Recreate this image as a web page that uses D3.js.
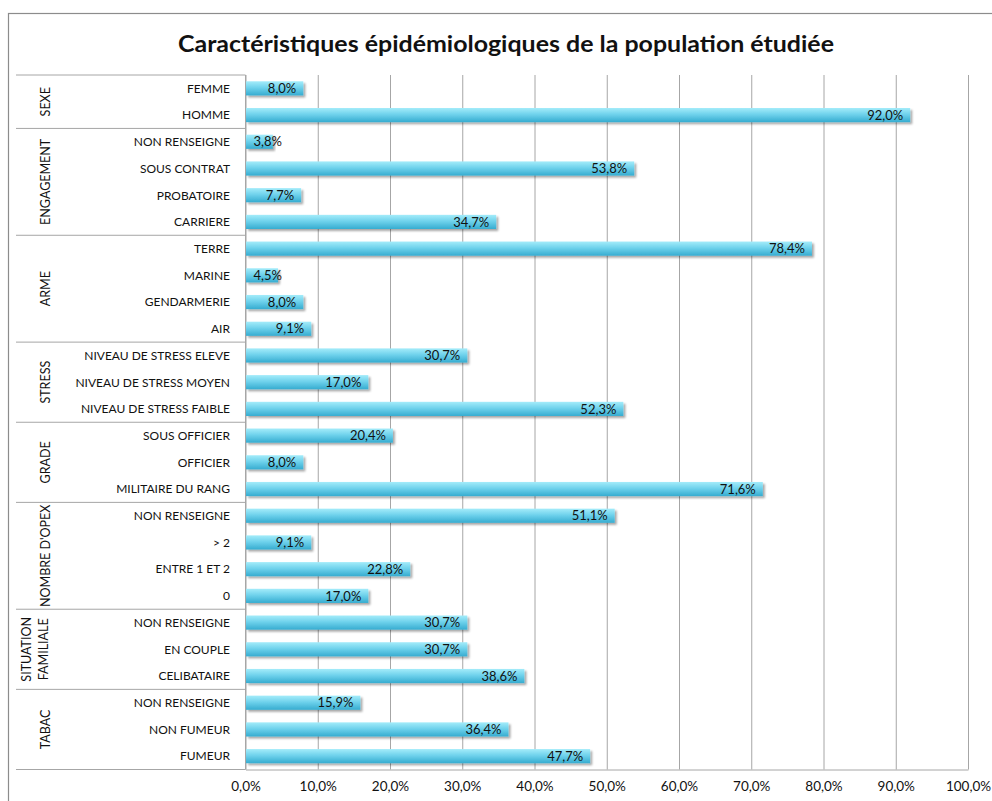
<!DOCTYPE html>
<html>
<head>
<meta charset="utf-8">
<script src="https://cdn.jsdelivr.net/npm/d3@7"></script>
<style>
  body { margin: 0; background: #fff; }
  svg { font-family: Lato, "Open Sans", sans-serif; }
</style>
</head>
<body>
<svg width="992" height="801"></svg>
<script>
// data
const groups = ["SEXE", "ENGAGEMENT", "ARME", "STRESS", "GRADE", "NOMBRE D'OPEX", "SITUATION FAMILIALE", "TABAC"];
const groupSizes = [2, 4, 4, 3, 3, 4, 3, 3];
const categories = [
    "FEMME", "HOMME",
    "NON RENSEIGNE", "SOUS CONTRAT", "PROBATOIRE", "CARRIERE",
    "TERRE", "MARINE", "GENDARMERIE", "AIR",
    "NIVEAU DE STRESS ELEVE", "NIVEAU DE STRESS MOYEN", "NIVEAU DE STRESS FAIBLE",
    "SOUS OFFICIER", "OFFICIER", "MILITAIRE DU RANG",
    "NON RENSEIGNE", "> 2", "ENTRE 1 ET 2", "0",
    "NON RENSEIGNE", "EN COUPLE", "CELIBATAIRE",
    "NON RENSEIGNE", "NON FUMEUR", "FUMEUR"
];
const values = [
    8.0, 92.0,
    3.8, 53.8, 7.7, 34.7,
    78.4, 4.5, 8.0, 9.1,
    30.7, 17.0, 52.3,
    20.4, 8.0, 71.6,
    51.1, 9.1, 22.8, 17.0,
    30.7, 30.7, 38.6,
    15.9, 36.4, 47.7
];
const xTicks = [0, 10, 20, 30, 40, 50, 60, 70, 80, 90, 100];

const fmt = (v) => v.toFixed(1).replace(".", ",") + "%";

const plotLeft = 245.5, plotRight = 968, plotTop = 75, plotBottom = 769.5;

const svg = d3.select("svg");

// chart frame
svg.append("rect")
    .attr("x", 8.5).attr("y", 13.5)
    .attr("width", 1000).attr("height", 1000)
    .attr("fill", "none").attr("stroke", "#8c8c8c").attr("stroke-width", 1.2);

svg.append("text")
    .attr("x", 506).attr("y", 52)
    .attr("text-anchor", "middle")
    .attr("font-size", 22).attr("font-weight", "bold")
    .attr("textLength", 656).attr("lengthAdjust", "spacingAndGlyphs")
    .attr("fill", "#111")
    .text("Caractéristiques épidémiologiques de la population étudiée");

const defs = svg.append("defs");
const grad = defs.append("linearGradient")
    .attr("id", "barGrad").attr("x1", 0).attr("y1", 0).attr("x2", 0).attr("y2", 1);
grad.append("stop").attr("offset", "0%").attr("stop-color", "#a4ecfa");
grad.append("stop").attr("offset", "45%").attr("stop-color", "#6fd2ec");
grad.append("stop").attr("offset", "100%").attr("stop-color", "#36acd0");

const shadow = defs.append("filter").attr("id", "shadow")
    .attr("x", "-5%").attr("y", "-30%").attr("width", "115%").attr("height", "180%");
shadow.append("feGaussianBlur").attr("in", "SourceAlpha").attr("stdDeviation", 1.3).attr("result", "b");
shadow.append("feOffset").attr("in", "b").attr("dx", 2).attr("dy", 2).attr("result", "o");
shadow.append("feComponentTransfer").attr("in", "o").attr("result", "s")
    .append("feFuncA").attr("type", "linear").attr("slope", 0.35);
const merge = shadow.append("feMerge");
merge.append("feMergeNode").attr("in", "s");
merge.append("feMergeNode").attr("in", "SourceGraphic");

const idx = d3.range(categories.length);

const xScale = d3.scaleLinear().domain([0, 100]).range([plotLeft, plotRight]);
const yScale = d3.scaleBand().domain(idx).range([plotTop, plotBottom]).paddingInner(0.47).paddingOuter(0.235);

// vertical grid lines
svg.append("g")
    .attr("transform", `translate(0,${plotBottom})`)
    .call(d3.axisBottom(xScale).tickValues(xTicks).tickSize(-(plotBottom - plotTop)).tickFormat(""))
    .call(g => g.select(".domain").remove())
    .call(g => g.selectAll("line").attr("stroke", "#a6a6a6"));

// x axis labels
svg.append("g")
    .attr("transform", `translate(0,${plotBottom})`)
    .call(d3.axisBottom(xScale).tickValues(xTicks).tickSize(0).tickPadding(12).tickFormat(d => d.toFixed(1).replace(".", ",") + "%"))
    .call(g => g.select(".domain").attr("stroke", "#a6a6a6"))
    .call(g => g.selectAll("text").attr("font-size", 13.5).attr("fill", "#111").attr("font-family", "Lato, sans-serif"));

// bars
svg.append("g").selectAll("rect")
    .data(idx)
    .join("rect")
    .attr("x", plotLeft + 0.5)
    .attr("y", i => yScale(i))
    .attr("width", i => xScale(values[i]) - plotLeft - 0.5)
    .attr("height", yScale.bandwidth())
    .attr("fill", "url(#barGrad)")
    .attr("filter", "url(#shadow)");

// value labels
const labels = svg.append("g").selectAll("text")
    .data(idx)
    .join("text")
    .attr("y", i => yScale(i) + yScale.bandwidth() / 2)
    .attr("dy", "0.36em")
    .attr("text-anchor", "end")
    .attr("font-size", 13)
    .attr("fill", "#111")
    .text(i => fmt(values[i]));
labels.each(function (i) {
    const w = this.getComputedTextLength();
    const xEnd = Math.max(xScale(values[i]) - 7, plotLeft + 8 + w);
    d3.select(this).attr("x", xEnd);
});

// left axis line
svg.append("line")
    .attr("x1", plotLeft).attr("x2", plotLeft).attr("y1", plotTop).attr("y2", plotBottom)
    .attr("stroke", "#a6a6a6");

// category labels
svg.append("g").selectAll("text")
    .data(idx)
    .join("text")
    .attr("x", 230)
    .attr("y", i => yScale(i) + yScale.bandwidth() / 2)
    .attr("dy", "0.36em")
    .attr("text-anchor", "end")
    .attr("font-size", 12)
    .attr("fill", "#111")
    .text(i => categories[i]);

// group separators and labels
const step = yScale.step();
let start = 0;
const bounds = [];
groupSizes.forEach((n, g) => {
    bounds.push({ g, y0: plotTop + start * step, y1: plotTop + (start + n) * step });
    start += n;
});

svg.append("g").selectAll("line")
    .data([plotTop].concat(bounds.map(b => b.y1)))
    .join("line")
    .attr("x1", 16).attr("x2", plotLeft)
    .attr("y1", d => d).attr("y2", d => d)
    .attr("stroke", "#a6a6a6");

const gl = svg.append("g").selectAll("text")
    .data(bounds)
    .join("text")
    .attr("transform", b => `translate(45,${(b.y0 + b.y1) / 2}) rotate(-90)`)
    .attr("text-anchor", "middle")
    .attr("dy", "0.36em")
    .attr("font-size", 12.5)
    .attr("fill", "#111");
gl.each(function (b) {
    const name = groups[b.g];
    const t = d3.select(this);
    if (name === "SITUATION FAMILIALE") {
        t.append("tspan").attr("x", 0).attr("dy", "-1.15em").text("SITUATION");
        t.append("tspan").attr("x", 0).attr("dy", "1.4em").text("FAMILIALE");
    } else {
        t.text(name);
    }
});
</script>
</body>
</html>
